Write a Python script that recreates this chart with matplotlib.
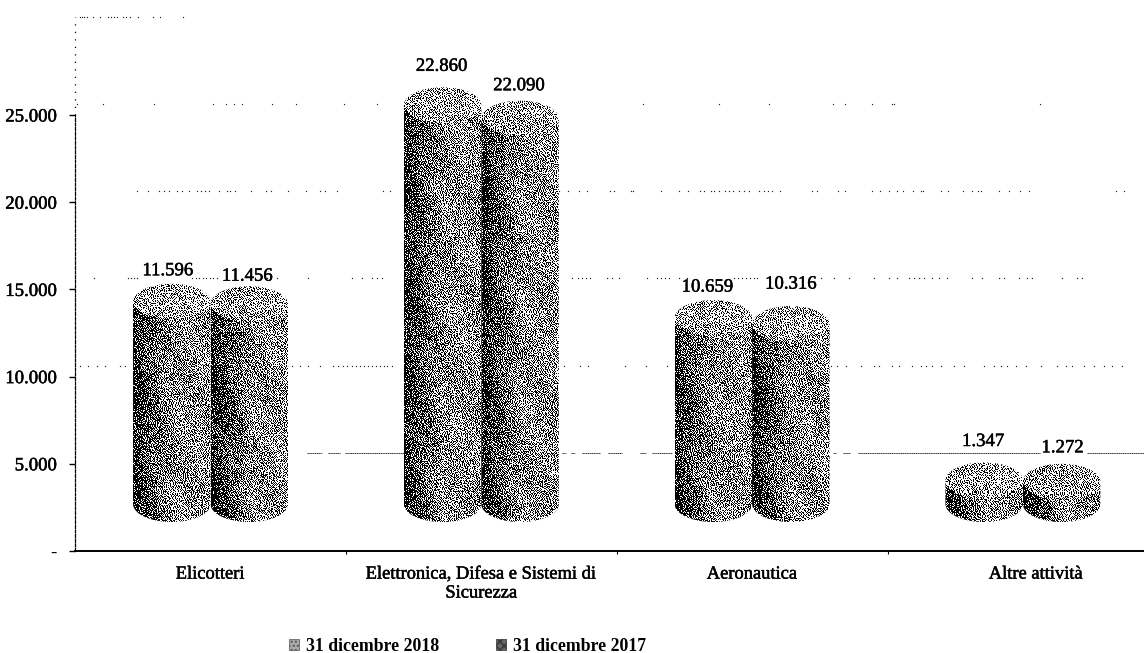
import numpy as np
import matplotlib
matplotlib.use("Agg")
import matplotlib.pyplot as plt
import matplotlib.patheffects as pe
from matplotlib.path import Path
from matplotlib.patches import PathPatch, Patch

plt.rcParams['font.family'] = ['Liberation Serif', 'DejaVu Serif']

categories = ['Elicotteri', 'Elettronica, Difesa e Sistemi di\nSicurezza', 'Aeronautica', 'Altre attività']
series_names = ['31 dicembre 2018', '31 dicembre 2017']
val_2018 = [11596, 22860, 10659, 1347]
val_2017 = [11456, 22090, 10316, 1272]
y_ticks = [0, 5000, 10000, 15000, 20000, 25000]

# the chart is a fake 3d one: everything floats above the axis
base_lift = 2695
wall_lift = 630
bar_w = 0.286
ell_h = 1032

# specks left of the scanned gridlines, x in figure pixels
grid_specks = {
    30000: [80, 82, 84, 87, 93, 100, 108, 111, 114, 117, 123, 126, 130, 138, 153, 160, 183],
    25000: [77, 103, 154, 213, 226, 234, 242, 272, 296, 344, 377, 541, 643, 719, 769, 833, 845, 872, 892, 894, 1040],
    20000: [137, 148, 159, 164, 169, 177, 182, 189, 197, 201, 205, 209, 219, 227, 230, 235, 251, 266, 271, 288, 306,
            320, 325, 337, 383, 390, 546, 556, 559, 568, 579, 587, 610, 614, 631, 633, 661, 679, 688, 700, 704, 711,
            714, 719, 725, 729, 733, 739, 744, 749, 759, 764, 768, 772, 780, 812, 817, 838, 845, 872, 880, 889, 897,
            903, 913, 921, 923, 941, 948, 963, 972, 978, 981, 999, 1009, 1020, 1029, 1116, 1124],
    15000: [94, 128, 131, 134, 137, 192, 196, 199, 203, 206, 210, 213, 217, 267, 277, 308, 352, 362, 372, 377, 382,
            552, 572, 578, 582, 586, 590, 607, 612, 619, 647, 657, 661, 665, 669, 679, 687, 734, 738, 742, 746, 750,
            754, 757, 821, 834, 849, 874, 889, 897, 909, 914, 919, 924, 932, 939, 947, 972, 982, 999, 1004, 1019,
            1027, 1032, 1062, 1077, 1082],
    10000: [80, 88, 97, 105, 120, 125, 287, 292, 300, 308, 320, 333, 338, 343, 347, 352, 356, 360, 364, 368, 372,
            376, 380, 384, 387, 392, 549, 564, 580, 588, 625, 646, 667, 831, 837, 846, 861, 874, 879, 892, 899, 912,
            921, 926, 932, 941, 954, 964, 984, 994, 1001, 1007, 1016, 1026, 1041, 1057, 1066, 1072, 1084, 1094, 1104,
            1112, 1122],
}
grid_dashes_5k = [(307, 322), (328, 340), (345, 404), (562, 566), (571, 575), (582, 600), (608, 622), (640, 646),
                  (652, 672), (833, 836), (843, 850), (858, 1040), (1087, 1144)]

label_dx = [-4, -2, -1, -1, -6, 0, -1, 1]
label_dy = [31, 28, 39, 33, 31, 40, 39, 34]
cat_label_dx = [0, 0, 0, 13]

ink = [pe.withStroke(linewidth=0.35, foreground='black')]


def px_x(p):
    return (np.asarray(p, dtype=float) - 210.5) / 270.8


def grain(rr, cc, seed):
    # hash noise for the paper texture only, the values above stay as read
    h = np.sin(12.9898 * rr + 78.233 * cc + seed) * 43758.5453
    return h - np.floor(h) - 0.5


def diffuse(gray):
    # error diffusion so the fills look like the faxed original
    g = gray.copy()
    h, w = g.shape
    for r in range(h):
        for c in range(w):
            old = g[r, c]
            new = 1.0 if old > 0.5 else 0.0
            g[r, c] = new
            e = old - new
            if c + 1 < w:
                g[r, c + 1] += e * 7 / 16
            if r + 1 < h:
                if c > 0:
                    g[r + 1, c - 1] += e * 3 / 16
                g[r + 1, c] += e * 5 / 16
                if c + 1 < w:
                    g[r + 1, c + 1] += e * 1 / 16
    return g


def draw_cylinder(ax, x, value, body_lo, face):
    left, right = x - bar_w / 2, x + bar_w / 2
    bottom, top = base_lift, base_lift + value
    rx = bar_w / 2
    t = np.linspace(0, np.pi, 60)
    up_x = x - rx * np.cos(t)
    up_y = top + ell_h * np.sin(t)
    lo_x = x + rx * np.cos(t)
    lo_y = bottom - ell_h * np.sin(t)
    verts = np.r_[np.c_[up_x, up_y], np.c_[lo_x, lo_y], [[up_x[0], up_y[0]]]]
    codes = [Path.MOVETO] + [Path.LINETO] * (len(verts) - 2) + [Path.CLOSEPOLY]
    clip = PathPatch(Path(verts, codes), transform=ax.transData, fc='none', ec='none')
    ax.add_patch(clip)

    ylo, yhi = bottom - ell_h, top + ell_h
    ny = int(round((yhi - ylo) / 5000 * 87.2))
    nx = 78
    u = (np.arange(nx) + 0.5) / nx
    yy = yhi - (np.arange(ny) + 0.5) / ny * (yhi - ylo)
    uu, vv = np.meshgrid(u, yy)
    rr, cc = np.mgrid[0:ny, 0:nx]
    gray = body_lo + (0.56 - body_lo) * np.clip(uu * 1.9, 0, 1) ** 0.9
    gray = gray + 0.05 * np.sin(vv / 900.0 + uu * 9)
    in_face = ((uu - 0.5) / 0.5) ** 2 + ((vv - top) / ell_h) ** 2 <= 1
    gray[in_face] = face + 0.12 * (0.5 - np.abs(vv[in_face] - top) / ell_h * 0.5) + 0.08 * (uu[in_face] - 0.5)
    gray = gray + 0.45 * grain(rr, cc, x) + 0.45 * grain(rr // 2, cc // 2, x + 7)
    im = ax.imshow(diffuse(gray), cmap='gray', vmin=0, vmax=1, aspect='auto', interpolation='nearest',
                   extent=(left, right, ylo, yhi), zorder=3)
    im.set_clip_path(clip)


fig = plt.figure(figsize=(11.44, 6.53), dpi=100)
ax = fig.add_axes([75 / 1144, (653 - 551) / 653, (1144 - 75) / 1144, (551 - 15) / 653])

x = np.arange(len(categories))
offs = [-bar_w / 2, bar_w / 2]
k = 0
for i in x:
    for s, vals in enumerate([val_2018, val_2017]):
        cx = i + offs[s]
        draw_cylinder(ax, cx, vals[i], 0.18 if s == 0 else 0.14, 0.62 if s == 0 else 0.6)
        ax.annotate(f'{vals[i]:,}'.replace(',', '.'), (cx, base_lift + vals[i]),
                    xytext=(label_dx[k] * 0.72, label_dy[k] * 0.72), textcoords='offset points',
                    ha='center', va='center', fontsize=13.5, color='black', zorder=5, path_effects=ink)
        k += 1

for level, dots in grid_specks.items():
    ax.plot(px_x(dots), [level + wall_lift] * len(dots), ls='', marker='s', ms=0.85, mew=0, color='#222222',
            zorder=1, clip_on=False)
for a, b in grid_dashes_5k:
    ax.plot(px_x([a, b]), [5000 + wall_lift] * 2, color='#333333', lw=0.7, ls=(0, (1.4, 0.5)), zorder=1)

ax.set_xlim(px_x(75), px_x(1144))
ax.set_ylim(0, (551 - 15) / 87.2 * 5000)

for sp in ['top', 'right']:
    ax.spines[sp].set_visible(False)
ax.spines['bottom'].set_linewidth(1.4)
ax.spines['left'].set_bounds(0, 25000)
ax.spines['left'].set_linewidth(0.9)
ax.spines['left'].set_linestyle((0, (2.4, 1.3)))
ax.plot([px_x(75)] * 2, [25000, 30600], color='black', lw=0.9, ls=(0, (1, 5)), clip_on=False, zorder=2)

ax.set_yticks(y_ticks)
ax.set_yticklabels(['-'] + [f'{v:,}'.replace(',', '.') for v in y_ticks[1:]], fontsize=13.5)
for lab in ax.get_yticklabels()[1:]:
    lab.set_path_effects(ink)
ax.tick_params(axis='y', length=4, width=1, pad=9)
ax.set_xticks(x[:-1] + 0.5)
ax.set_xticklabels([])
ax.tick_params(axis='x', length=2.5, width=0.8)

for i, name in enumerate(categories):
    ax.annotate(name, (x[i], 0), xycoords=ax.get_xaxis_transform(), xytext=(cat_label_dx[i] * 0.72, -10.5),
                textcoords='offset points', ha='center', va='top', fontsize=13.3, linespacing=1.15, path_effects=ink)

handles = [Patch(fc='#aaaaaa', ec='#555555', lw=0.5, hatch='....'), Patch(fc='#666666', ec='#333333', lw=0.5, hatch='xxxx')]
fig.legend(handles, series_names, loc='center', bbox_to_anchor=(467.5 / 1144, 1 - 646.5 / 653), ncol=2, frameon=False,
           handlelength=0.55, handleheight=0.55, handletextpad=0.4, columnspacing=3.2,
           borderpad=0, borderaxespad=0, prop={'size': 12.8, 'weight': 'bold'})

fig.savefig('out.png', dpi=100)
